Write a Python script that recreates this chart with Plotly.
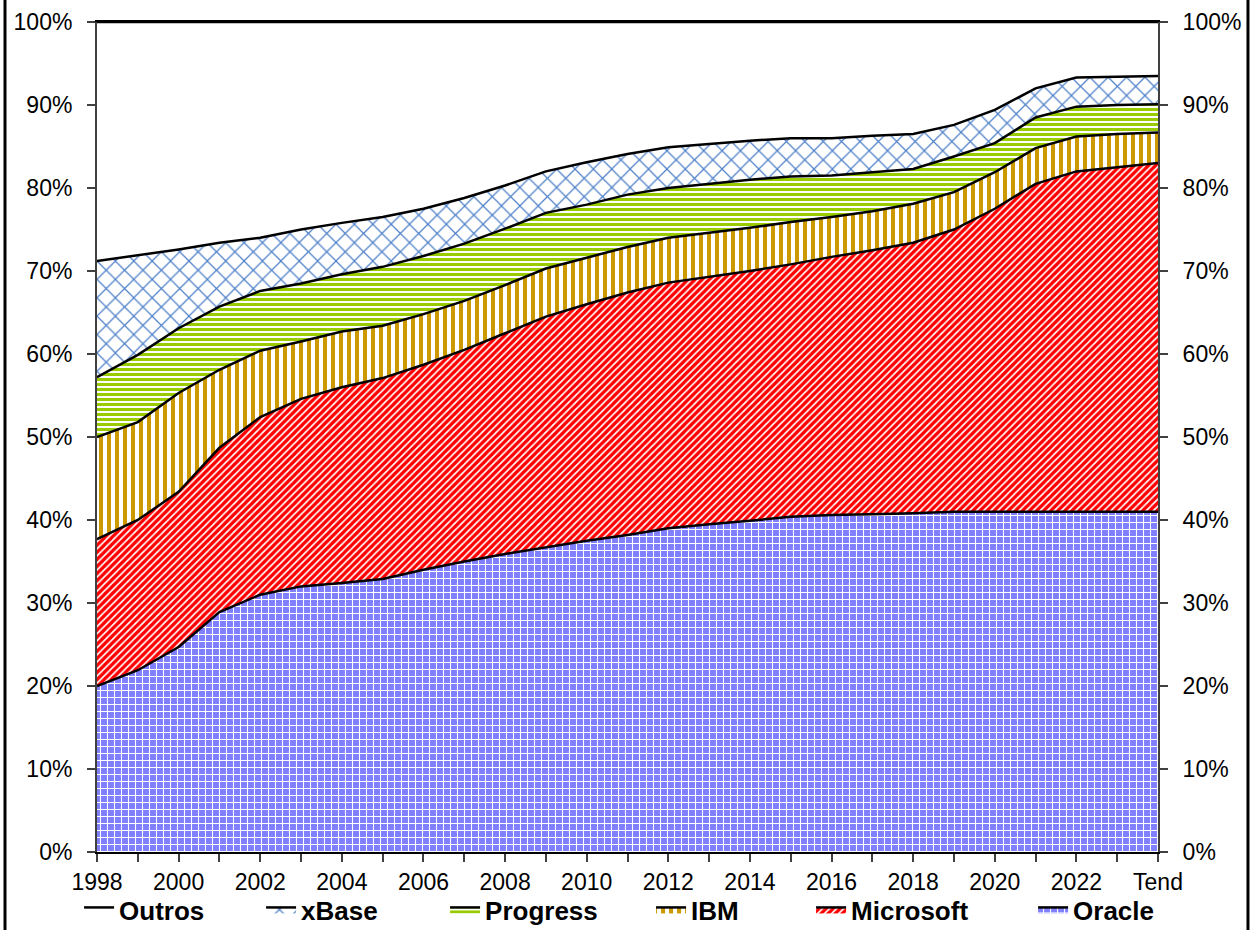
import plotly.graph_objects as go

categories = ['1998', '1999', '2000', '2001', '2002', '2003', '2004', '2005', '2006',
              '2007', '2008', '2009', '2010', '2011', '2012', '2013', '2014', '2015',
              '2016', '2017', '2018', '2019', '2020', '2021', '2022', '2023', 'Tend']
x_tick_labels = ['1998', '', '2000', '', '2002', '', '2004', '', '2006', '', '2008', '',
                 '2010', '', '2012', '', '2014', '', '2016', '', '2018', '', '2020', '',
                 '2022', '', 'Tend']

oracle = [20.0, 21.9, 24.7, 28.9, 31.0, 32.0, 32.4, 32.9, 34.0, 35.0, 35.9, 36.7, 37.5, 38.2,
          39.0, 39.5, 39.9, 40.4, 40.6, 40.7, 40.8, 41.0, 41.0, 41.0, 41.0, 41.0, 41.0]
microsoft = [17.7, 18.1, 18.7, 19.8, 21.4, 22.6, 23.6, 24.2, 24.7, 25.5, 26.6, 27.8, 28.5, 29.2,
             29.6, 29.8, 30.1, 30.4, 31.1, 31.8, 32.6, 34.0, 36.5, 39.5, 41.0, 41.5, 42.0]
ibm = [12.3, 11.8, 11.9, 9.4, 8.0, 6.9, 6.7, 6.3, 6.1, 5.9, 5.8, 5.8, 5.6, 5.5,
       5.4, 5.3, 5.2, 5.1, 4.8, 4.7, 4.7, 4.5, 4.4, 4.3, 4.2, 4.0, 3.7]
progress = [7.2, 8.1, 7.8, 7.6, 7.2, 7.0, 6.9, 7.1, 7.0, 6.9, 6.8, 6.7, 6.4, 6.3,
            6.0, 5.9, 5.8, 5.5, 5.0, 4.7, 4.2, 4.3, 3.5, 3.7, 3.6, 3.5, 3.4]
xbase = [14.0, 12.0, 9.5, 7.7, 6.4, 6.5, 6.2, 6.0, 5.7, 5.5, 5.2, 5.0, 5.1, 4.9,
         4.9, 4.8, 4.7, 4.6, 4.5, 4.4, 4.2, 3.8, 4.0, 3.5, 3.5, 3.4, 3.4]
outros = [28.8, 28.1, 27.4, 26.6, 26.0, 25.0, 24.2, 23.5, 22.5, 21.2, 19.7, 18.0, 16.9, 15.9,
          15.1, 14.7, 14.3, 14.0, 14.0, 13.7, 13.5, 12.4, 10.6, 8.0, 6.7, 6.6, 6.5]

series = [
    ('Oracle', oracle, dict(shape='+', fgcolor='#FFFFFF', bgcolor='#8080FF', size=7, solidity=0.28), 95),
    ('Microsoft', microsoft, dict(shape='/', fgcolor='#FF0000', bgcolor='#FFFFFF', size=5, solidity=0.66), 177),
    ('IBM', ibm, dict(shape='|', fgcolor='#CC9900', bgcolor='#FFFFFF', size=8, solidity=0.5), 115),
    ('Progress', progress, dict(shape='-', fgcolor='#99CC00', bgcolor='#FFFFFF', size=5, solidity=0.6), 161),
    ('xBase', xbase, dict(shape='x', fgcolor='#4F81C8', bgcolor='#FFFFFF', size=13, solidity=0.18), 139),
    ('Outros', outros, None, 137),
]

fig = go.Figure()
for name, vals, pat, lw in series:
    kw = dict(x=categories, y=vals, name=name, mode='lines', stackgroup='one',
              line=dict(color='black', width=2.5), hoverinfo='skip', legendwidth=lw)
    if pat is None:
        kw['fillcolor'] = '#FFFFFF'
    else:
        kw['fillpattern'] = dict(pat, fgopacity=1, fillmode='replace')
        kw['fillcolor'] = pat['bgcolor']
    fig.add_trace(go.Scatter(**kw))

# invisible helper trace so that the right-hand percentage axis is drawn
fig.add_trace(go.Scatter(x=categories, y=oracle, yaxis='y2', mode='lines',
                         line=dict(width=0), opacity=0, showlegend=False, hoverinfo='skip'))

font_family = 'Arial, Liberation Sans, sans-serif'
yax = dict(range=[0, 100], dtick=10, ticksuffix='%', showgrid=False, zeroline=False,
           showline=True, linecolor='#404040', linewidth=2, ticks='outside', ticklen=8,
           tickwidth=2, tickcolor='#404040', ticklabelstandoff=10,
           tickfont=dict(size=23, color='black', family=font_family),
           fixedrange=True, automargin=False)

fig.update_layout(
    width=1255, height=930,
    margin=dict(l=97, r=97, t=22, b=78, autoexpand=False),
    paper_bgcolor='white', plot_bgcolor='white',
    font=dict(family=font_family, color='black'),
    xaxis=dict(type='category', range=[0, 26], tickmode='array', tickvals=categories,
               ticktext=x_tick_labels, showgrid=False, zeroline=False, showline=True,
               linecolor='black', linewidth=2, mirror=True, ticks='outside', ticklen=8,
               tickwidth=2, tickcolor='#404040', automargin=False, fixedrange=True,
               tickfont=dict(size=23, color='black', family=font_family), tickangle=0),
    yaxis=yax,
    yaxis2=dict(yax, overlaying='y', side='right', anchor='x'),
    showlegend=True,
    legend=dict(orientation='h', traceorder='reversed', x=-0.0169, xanchor='left',
                y=-0.041, yanchor='top', font=dict(size=26, family=font_family, color='black', weight='bold'),
                itemwidth=30, bgcolor='rgba(0,0,0,0)'),
    shapes=[
        dict(type='line', xref='paper', yref='paper', x0=-0.0867, x1=-0.0867, y0=-0.2, y1=1.1,
             line=dict(color='black', width=3)),
        dict(type='line', xref='paper', yref='paper', x0=1.0848, x1=1.0848, y0=-0.2, y1=1.1,
             line=dict(color='black', width=3)),
    ],
)

fig.write_html('out.html', config={'displayModeBar': False},
               post_script="document.body.style.margin='0';document.body.style.overflow='hidden';")
